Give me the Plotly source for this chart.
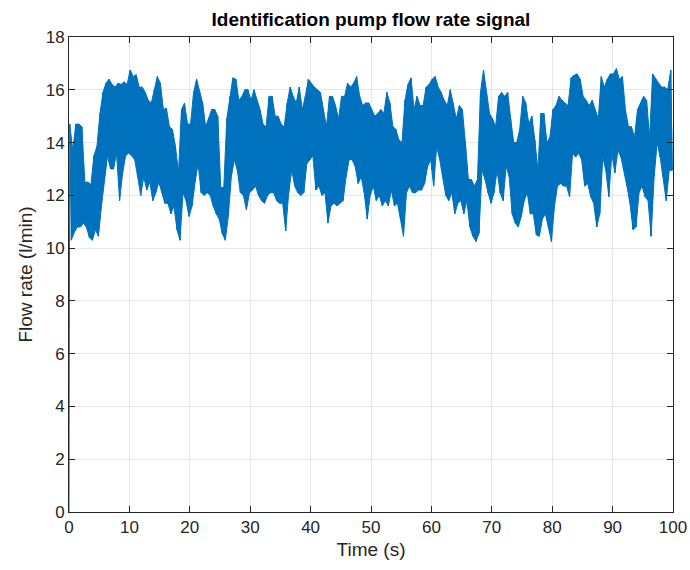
import plotly.graph_objects as go

# Envelope: per 0.5 s bin, upper and lower extremes (l/min)
bin_start = [i * 0.5 for i in range(200)]
hi = [14.7,13.7,14.7,14.7,14.6,12.5,12.5,12.4,13.5,13.85, 15.1,15.9,16.25,16.4,16.2,16.1,16.25,16.2,16.3,16.2,
      16.75,16.5,16.57,16.1,16.1,15.9,15.6,15.5,16.0,16.5, 16.25,15.25,15.3,14.6,14.5,13.85,12.85,15.25,15.5,14.7,
      14.7,15.9,16.4,15.9,15.5,14.6,14.9,15.25,15.25,15.0, 12.3,12.3,14.9,15.75,16.45,16.4,15.6,15.75,16.0,16.0,
      15.6,16.0,15.6,15.25,14.7,14.6,15.75,15.75,15.0,15.0, 14.7,14.6,15.5,16.1,15.75,15.5,16.1,15.25,15.75,16.4,
      16.25,16.1,16.0,15.9,15.25,14.6,15.75,15.75,15.4,14.9, 15.75,15.75,16.25,16.1,16.25,16.5,15.75,15.4,15.5,15.5,
      15.25,15.0,15.1,15.25,15.1,15.9,15.5,14.6,14.5,14.1, 14.0,15.6,16.2,16.45,15.25,15.75,15.4,15.4,16.1,16.2,
      16.4,16.5,16.1,15.9,15.6,15.4,16.0,15.5,14.9,15.4, 15.25,14.0,12.6,12.6,12.35,12.6,15.9,16.75,15.9,15.1,
      14.9,14.6,15.75,15.9,15.75,15.9,14.9,14.0,14.0,14.5, 15.75,15.5,14.7,15.0,14.1,12.95,15.1,15.1,14.0,14.2,
      15.25,15.4,15.75,15.6,15.5,15.4,16.45,16.55,16.6,16.4, 15.75,15.6,15.4,15.6,15.25,14.9,16.5,16.1,16.4,16.6,
      16.6,16.8,16.4,16.5,15.25,14.6,14.6,14.2,15.25,15.5, 15.75,15.6,14.2,16.6,16.4,16.25,16.1,16.1,16.0,16.75]
lo = [10.3,10.6,10.8,10.8,10.95,10.8,10.4,10.3,10.7,10.45, 11.6,12.6,13.5,13.0,13.0,13.6,11.8,12.85,13.5,13.6,
      13.5,13.35,12.7,12.0,12.7,12.2,12.5,11.8,12.1,12.5, 12.1,11.7,11.7,11.3,11.6,10.7,10.3,12.1,11.8,11.2,
      11.6,12.5,13.2,12.1,12.0,12.1,12.0,11.6,11.3,11.1, 10.55,10.3,11.2,12.7,13.35,12.95,12.1,12.0,11.45,12.1,
      12.2,12.35,12.0,11.8,11.7,12.0,12.1,12.1,11.8,11.7, 11.7,10.65,12.1,12.95,12.35,12.1,12.0,12.1,13.2,13.35,
      13.5,12.2,12.35,12.0,12.1,10.95,11.6,11.7,11.6,11.7, 11.8,12.7,13.35,13.35,13.1,12.45,12.7,12.1,11.1,12.0,
      12.35,11.8,12.0,11.6,11.8,11.6,12.2,11.6,11.7,11.1, 10.45,12.1,12.35,12.1,12.1,12.2,12.2,12.45,13.1,13.35,
      12.35,13.85,13.35,12.7,12.0,11.8,12.1,11.3,11.7,11.8, 11.3,11.8,10.8,10.45,10.25,10.55,12.95,12.6,12.1,11.7,
      12.1,12.95,12.1,11.8,13.1,12.7,11.3,10.95,10.8,11.2, 11.8,12.1,11.3,11.3,10.5,10.45,11.1,11.3,10.8,10.25,
      11.6,12.35,12.45,12.35,12.35,11.95,13.6,13.45,13.6,13.35, 12.35,12.45,11.95,11.7,10.8,11.3,13.45,12.95,11.95,13.6,
      12.85,13.7,13.45,12.95,12.35,11.7,10.7,10.8,12.1,12.35, 11.95,11.8,10.45,12.7,13.98,13.45,12.7,11.8,12.95,12.95]

start_time = 0.0
start_value = 0.0

line_color = "#0072BD"
axis_color = "#262626"
grid_color = "#e6e6e6"
font_family = "Arial, Liberation Sans, Helvetica, sans-serif"

# zigzag signal through the per-bin extremes
t = [start_time]
y = [start_value]
for b, h, l in zip(bin_start, hi, lo):
    t += [b + 0.125, b + 0.375]
    y += [h, l]

# dense band: filled envelope between lower and upper extremes
t_hi = [b + 0.125 for b in bin_start]
t_lo = [b + 0.375 for b in bin_start]
band_x = t_hi + t_lo[::-1]
band_y = hi + lo[::-1]

fig = go.Figure()
fig.add_trace(go.Scatter(x=band_x, y=band_y, mode="lines", fill="toself",
                         fillcolor=line_color, line=dict(color=line_color, width=1),
                         showlegend=False, hoverinfo="skip"))
fig.add_trace(go.Scatter(x=t, y=y, mode="lines",
                         line=dict(color=line_color, width=1), showlegend=False))

fig.update_layout(
    width=690, height=570,
    margin=dict(l=69, r=17, t=37, b=58),
    paper_bgcolor="white", plot_bgcolor="white",
    font=dict(family=font_family, color=axis_color, size=17),
    title=dict(text="<b>Identification pump flow rate signal</b>",
               x=(69 + 673) / 2 / 690, xanchor="center", y=1 - 19 / 570, yanchor="middle",
               font=dict(size=19, color="black", family=font_family)),
)
fig.update_xaxes(range=[0, 100], tickvals=list(range(0, 101, 10)), automargin=False,
                 showline=True, linecolor=axis_color, linewidth=1, mirror="ticks",
                 ticks="inside", ticklen=6, tickcolor=axis_color,
                 showgrid=True, gridcolor=grid_color, gridwidth=1, zeroline=False,
                 tickfont=dict(size=17),
                 title=dict(text="Time (s)", font=dict(size=19), standoff=6))
fig.update_yaxes(range=[0, 18], tickvals=list(range(0, 19, 2)), automargin=False,
                 showline=True, linecolor=axis_color, linewidth=1, mirror="ticks",
                 ticks="inside", ticklen=6, tickcolor=axis_color,
                 showgrid=True, gridcolor=grid_color, gridwidth=1, zeroline=False,
                 tickfont=dict(size=17),
                 title=dict(text="Flow rate (l/min)", font=dict(size=19), standoff=8))

fig.write_html("out.html")
